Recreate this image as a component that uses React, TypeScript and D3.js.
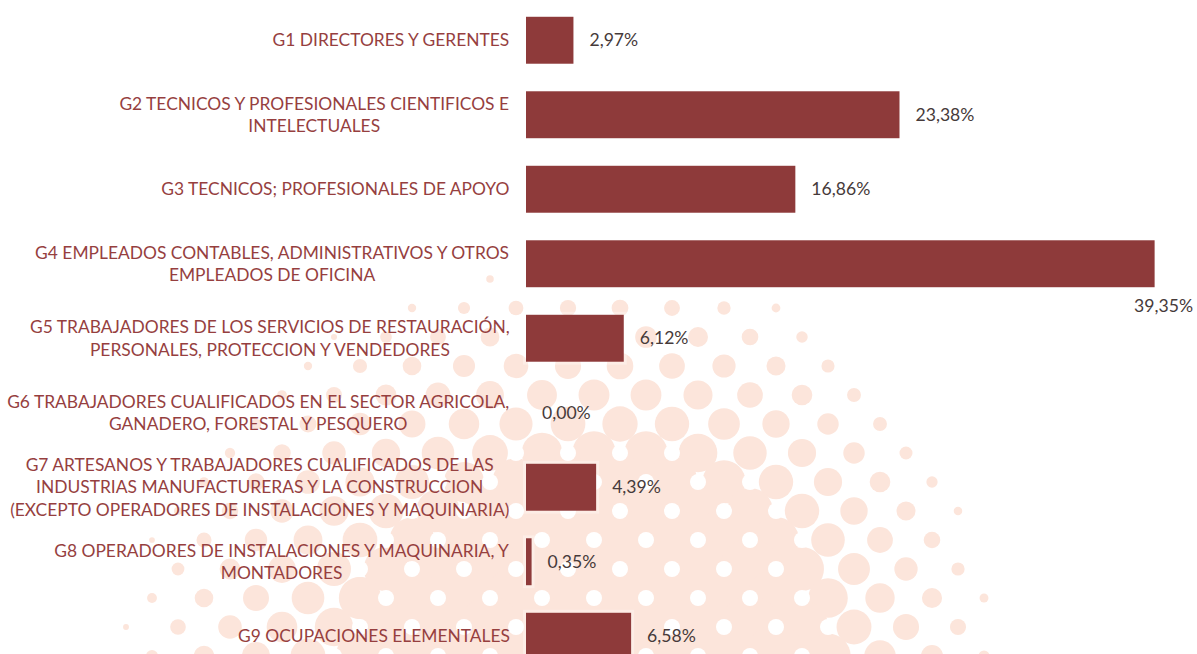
import React from 'react';
import * as d3 from 'd3';

// categories, line breaks as in the original picture
const categories = [
    'G1 DIRECTORES Y GERENTES',
    'G2 TECNICOS Y PROFESIONALES CIENTIFICOS E\nINTELECTUALES',
    'G3 TECNICOS; PROFESIONALES DE APOYO',
    'G4 EMPLEADOS CONTABLES, ADMINISTRATIVOS Y OTROS\nEMPLEADOS DE OFICINA',
    'G5 TRABAJADORES DE LOS SERVICIOS DE RESTAURACIÓN,\nPERSONALES, PROTECCION Y VENDEDORES',
    'G6 TRABAJADORES CUALIFICADOS EN EL SECTOR AGRICOLA,\nGANADERO, FORESTAL Y PESQUERO',
    'G7 ARTESANOS Y TRABAJADORES CUALIFICADOS DE LAS\nINDUSTRIAS MANUFACTURERAS Y LA CONSTRUCCION\n(EXCEPTO OPERADORES DE INSTALACIONES Y MAQUINARIA)',
    'G8 OPERADORES DE INSTALACIONES Y MAQUINARIA, Y\nMONTADORES',
    'G9 OCUPACIONES ELEMENTALES',
];
const values = [2.97, 23.38, 16.86, 39.35, 6.12, 0.0, 4.39, 0.35, 6.58];
const valueLabels = ['2,97%', '23,38%', '16,86%', '39,35%', '6,12%', '0,00%', '4,39%', '0,35%', '6,58%'];

const W = 1197;
const H = 654;
const FONT = 'Lato, "Open Sans", sans-serif';
const labelSize = 17.4;
const valueSize = 17.6;
const barColor = '#8e3a3a';
const labelColor = '#963f3f';
const valueColor = '#463a3a';
const peach = '#fce5db';

let ctx: CanvasRenderingContext2D | null = null;
function textWidth(s: string, size: number) {
    if (!ctx) ctx = document.createElement('canvas').getContext('2d');
    if (!ctx) return s.length * size * 0.55;
    ctx.font = `${size}px ${FONT}`;
    return ctx.measureText(s).width;
}

// decorative halftone behind the chart
function halftone() {
    const dots: JSX.Element[] = [];
    const holes: JSX.Element[] = [];
    const colStep = 26;
    const rowStep = 29;
    const field = (x: number, y: number) => {
        const cx = 620, cy = 700;
        const ax = x < cx ? 520 : 400;
        const ay = 460;
        const d = Math.sqrt(((x - cx) / ax) ** 2 + ((y - cy) / ay) ** 2);
        if (d >= 1) return 0;
        return 1.9 * Math.pow(1 - d, 1.5);
    };
    const radius = (I: number) => (I <= 0.5 ? 18 * Math.sqrt(I / 0.5) : Math.min(31, 18 + (I - 0.5) * 40));
    let r = 0;
    for (let y = 250; y < H + rowStep * 2; y += rowStep, r++) {
        const off = r % 2 ? colStep : 0;
        for (let x = 48 + off; x < 1100; x += colStep * 2) {
            const I = field(x, y);
            if (I > 0.01) {
                dots.push(<circle key={`d${x}-${y}`} cx={x} cy={y} r={radius(I)} fill={peach} />);
            }
            const hx = x + colStep;
            const Ih = field(hx, y);
            if (Ih > 0.5) {
                const hr = Math.max(8, 27 - radius(Ih));
                holes.push(<circle key={`h${hx}-${y}`} cx={hx} cy={y} r={hr} fill="#fff" />);
            }
        }
    }
    return <g>{dots}{holes}</g>;
}

export default function App() {
    const y = d3.scaleBand<string>()
        .domain(categories)
        .range([3, 673.5])
        .paddingInner(0.37)
        .paddingOuter(0.185);
    const x = d3.scaleLinear().domain([0, 40]).range([526, 1165]);
    const labelRight = 510;
    const lineH = 22.5;
    const gap = 16;

    return (
        <div style={{ position: 'absolute', left: 0, top: 0 }}>
            <svg width={W} height={H} style={{ display: 'block', background: '#fff', overflow: 'hidden' }}>
                {halftone()}
                {categories.map((c) => {
                    const lines = c.split('\n');
                    const maxW = d3.max(lines, l => textWidth(l, labelSize)) || 0;
                    const cx = labelRight - maxW / 2;
                    const cy = (y(c) || 0) + y.bandwidth() / 2;
                    const y0 = cy - ((lines.length - 1) * lineH) / 2;
                    return (
                        <text key={c} fill={labelColor} fontFamily={FONT} fontSize={labelSize} textAnchor="middle">
                            {lines.map((l, j) => (
                                <tspan key={j} x={cx} y={y0 + j * lineH} dy="0.35em">{l}</tspan>
                            ))}
                        </text>
                    );
                })}
                {categories.map((c, i) => {
                    const by = y(c) || 0;
                    const bw = x(values[i]) - x(0);
                    return (
                        <g key={c}>
                            {bw > 0 && <rect x={x(0) - 3} y={by - 3} width={bw + 6} height={y.bandwidth() + 6} fill="#fff" opacity={0.3} />}
                            <rect x={x(0)} y={by} width={bw} height={y.bandwidth()} fill={barColor} />
                        </g>
                    );
                })}
                {categories.map((c, i) => {
                    const by = y(c) || 0;
                    const end = x(values[i]);
                    const tw = textWidth(valueLabels[i], valueSize);
                    const overflow = end + gap + tw > W - 2;
                    return (
                        <text
                            key={c}
                            x={overflow ? W - 4 : end + gap}
                            y={overflow ? by + y.bandwidth() + 19 : by + y.bandwidth() / 2}
                            dy="0.35em"
                            textAnchor={overflow ? 'end' : 'start'}
                            fill={valueColor}
                            fontFamily={FONT}
                            fontSize={valueSize}
                        >
                            {valueLabels[i]}
                        </text>
                    );
                })}
            </svg>
        </div>
    );
}
